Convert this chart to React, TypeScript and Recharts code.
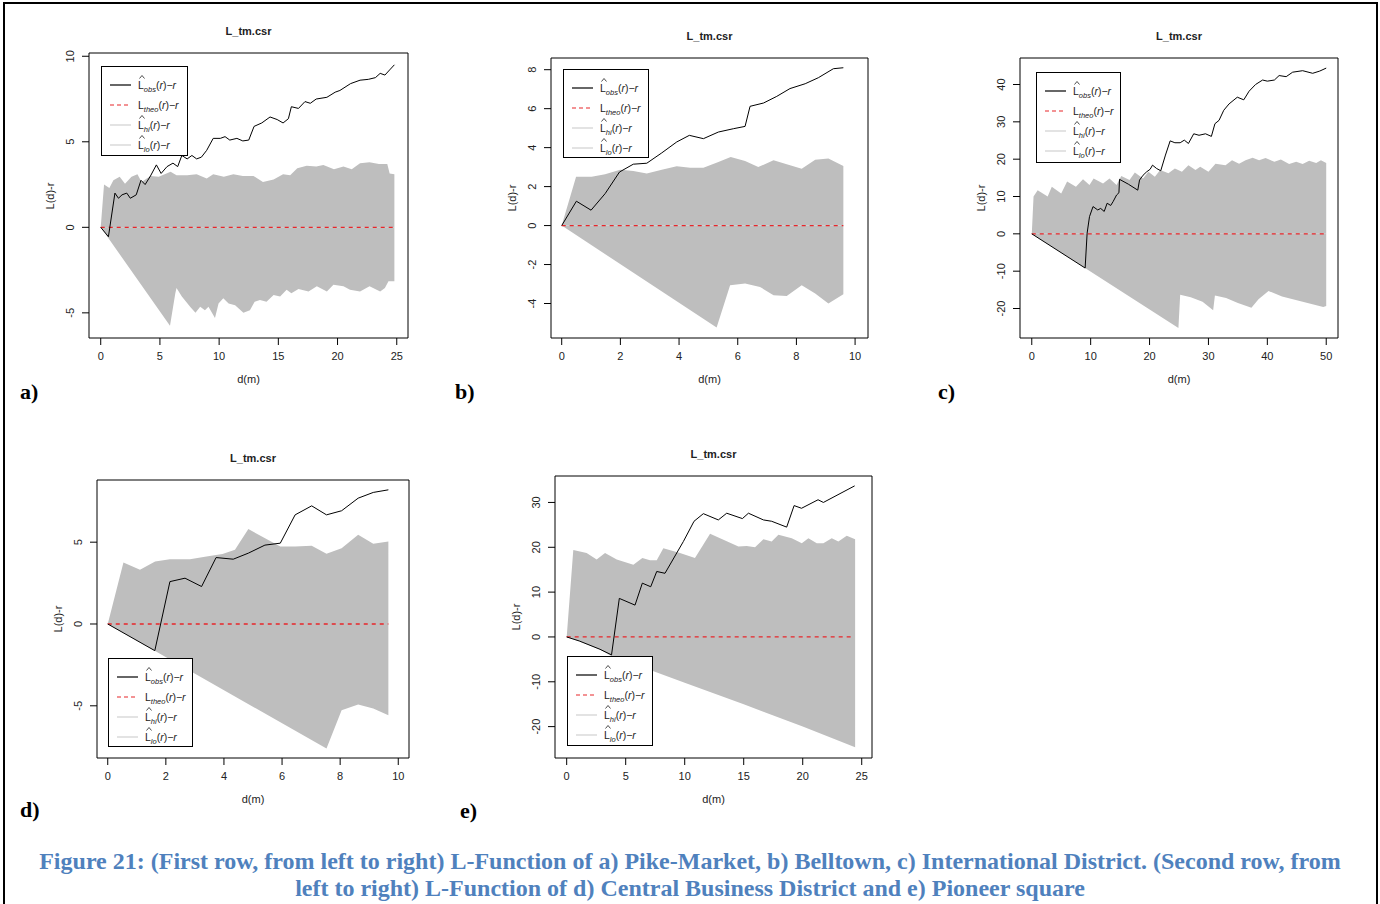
import React from 'react';
import { ComposedChart, Line, Area, XAxis, YAxis, ReferenceArea } from 'recharts';

type Pt = [number, number];

// a) Pike-Market
const pikeObs: Pt[] = [[0,0],[0.65,-0.55],[1.2,2.0],[1.5,1.7],[1.8,1.9],[2.2,2.0],[2.5,1.7],[3.0,1.9],[3.4,2.75],[3.75,2.5],[4.2,3.0],[4.7,3.65],[5.1,3.15],[5.6,3.55],[6.1,3.75],[6.5,3.55],[6.85,4.2],[7.3,4.0],[7.7,4.2],[8.1,4.0],[8.5,4.1],[8.95,4.5],[9.5,5.2],[10.1,5.2],[10.5,5.3],[10.9,5.1],[11.5,5.2],[12.0,5.05],[12.5,5.1],[12.95,5.9],[13.6,6.1],[14.3,6.45],[14.9,6.3],[15.4,6.1],[15.85,6.35],[16.1,7.05],[16.7,6.95],[17.25,7.35],[17.7,7.25],[18.2,7.5],[19.1,7.6],[19.8,7.9],[20.2,8.0],[21.1,8.4],[21.9,8.6],[22.6,8.65],[23.2,8.75],[23.6,9.0],[24.0,8.9],[24.4,9.2],[24.8,9.5]];
const pikeHi: Pt[] = [[0,0],[0.28,2.5],[0.73,2.3],[1.07,2.75],[1.6,2.95],[2.05,2.55],[2.6,2.95],[3.1,3.1],[3.45,2.65],[4.2,3.0],[4.9,2.95],[5.9,3.25],[6.4,3.05],[7.3,3.05],[8.1,3.1],[8.95,2.85],[9.5,3.1],[10.4,2.95],[11.2,3.1],[12.0,3.0],[12.9,3.0],[13.7,2.65],[14.6,2.8],[15.4,3.1],[16.0,3.05],[16.6,3.45],[17.4,3.6],[18.2,3.55],[18.8,3.65],[19.7,3.4],[20.5,3.55],[21.2,3.4],[21.9,3.75],[22.7,3.8],[23.5,3.7],[24.2,3.7],[24.4,3.15],[24.8,3.1]];
const pikeLo: Pt[] = [[0,0],[5.85,-5.75],[6.3,-3.85],[6.4,-3.55],[6.85,-4.05],[7.55,-4.65],[8.0,-5.0],[8.4,-4.65],[8.8,-4.85],[9.1,-4.65],[9.65,-5.3],[9.95,-4.45],[10.35,-4.15],[10.8,-4.45],[11.35,-4.55],[12.05,-5.0],[12.6,-4.85],[13.0,-4.35],[13.45,-4.25],[14.0,-4.35],[14.6,-3.95],[15.15,-4.05],[15.7,-3.65],[16.1,-3.85],[16.7,-3.6],[17.55,-3.75],[18.25,-3.45],[19.1,-3.75],[19.65,-3.35],[20.5,-3.45],[21.05,-3.65],[21.9,-3.75],[22.7,-3.45],[23.6,-3.75],[24.0,-3.55],[24.3,-3.15],[24.8,-3.15]];

// b) Belltown
const bellObs: Pt[] = [[0,0],[0.5,1.25],[1.0,0.79],[1.48,1.64],[1.97,2.75],[2.44,3.15],[2.9,3.2],[3.41,3.73],[3.92,4.29],[4.35,4.63],[4.83,4.46],[5.34,4.8],[5.85,4.97],[6.25,5.09],[6.42,6.12],[6.88,6.29],[7.33,6.63],[7.78,7.03],[8.3,7.28],[8.75,7.59],[9.26,8.05],[9.6,8.1]];
const bellHi: Pt[] = [[0,0],[0.49,2.5],[1.02,2.5],[1.48,2.63],[1.99,2.87],[2.44,2.8],[2.9,2.67],[3.41,2.87],[3.92,3.04],[4.38,2.97],[4.83,2.97],[5.34,3.26],[5.76,3.52],[6.25,3.32],[6.7,3.0],[7.22,3.35],[7.67,3.15],[8.18,2.92],[8.64,3.38],[9.09,3.44],[9.6,3.06]];
const bellLo: Pt[] = [[0,0],[5.28,-5.23],[5.74,-3.06],[6.25,-2.97],[6.76,-3.15],[7.22,-3.57],[7.67,-3.62],[8.18,-3.06],[8.64,-3.49],[9.09,-4.0],[9.6,-3.52]];

// c) International District
const intlObs: Pt[] = [[0,0],[9.06,-9.16],[9.4,0.2],[9.8,4.6],[10.4,7.3],[11.2,6.4],[11.7,6.8],[12.3,6.0],[12.8,8.2],[13.4,7.6],[13.8,8.6],[14.4,10.4],[14.8,11.0],[14.9,14.6],[16.4,13.3],[18.0,11.7],[18.3,14.4],[18.9,15.7],[19.5,16.6],[20.1,17.3],[20.5,18.4],[21.2,17.5],[21.9,16.9],[22.7,21.1],[23.5,24.9],[24.3,24.4],[25.2,24.4],[25.9,25.1],[26.6,24.2],[27.5,26.8],[28.4,26.4],[29.5,26.8],[30.5,26.1],[31.1,29.5],[31.8,30.4],[32.6,33.1],[33.5,34.8],[34.9,36.6],[36.0,35.9],[36.9,38.2],[38.0,40.0],[39.2,41.2],[40.0,40.9],[41.2,41.2],[42.0,42.4],[43.2,42.1],[44.3,43.3],[46.0,43.7],[47.7,43.0],[48.9,43.6],[50.0,44.4]];
const intlHi: Pt[] = [[0,0],[0.3,10],[1.0,11.7],[2.7,10.0],[3.4,12.6],[5.0,10.8],[6.0,14.0],[7.5,12.6],[8.7,14.6],[9.8,13.1],[10.5,14.8],[12.1,13.5],[13.2,14.8],[14.4,13.1],[15.2,15.5],[16.6,14.4],[17.5,16.4],[18.9,14.8],[19.8,16.6],[20.9,15.3],[21.8,17.1],[23.2,16.2],[24.3,17.5],[25.5,16.6],[26.6,18.4],[27.8,17.1],[28.6,18.0],[30.0,16.6],[31.2,18.8],[32.9,18.4],[34.0,19.7],[35.2,18.8],[36.3,19.7],[37.5,20.4],[38.6,19.7],[39.7,20.3],[41.2,19.3],[42.3,19.9],[43.7,18.7],[44.9,19.3],[46.0,18.7],[47.1,19.6],[48.3,19.0],[49.1,19.7],[50,19.0]];
const intlLo: Pt[] = [[0,0],[24.9,-25.2],[25.2,-16.3],[27,-17],[29,-18.2],[30.8,-20.5],[31.1,-16.5],[33,-17.2],[35,-18.5],[37.3,-19.8],[38.5,-17.5],[40.2,-15.3],[42.5,-16.8],[45,-17.8],[47.5,-18.8],[49.5,-19.6],[50,-19.3]];

// d) Central Business District
const cbdObs: Pt[] = [[0,0],[1.62,-1.63],[2.14,2.59],[2.66,2.8],[3.23,2.29],[3.73,4.06],[4.32,3.96],[4.84,4.33],[5.41,4.82],[5.94,4.94],[6.45,6.67],[7.02,7.22],[7.53,6.67],[8.05,6.92],[8.62,7.69],[9.14,8.04],[9.66,8.2]];
const cbdHi: Pt[] = [[0,0],[0.54,3.76],[1.11,3.31],[1.63,3.82],[2.14,3.96],[2.83,3.96],[3.4,4.12],[3.95,4.27],[4.38,4.53],[4.84,5.8],[5.94,4.73],[6.45,4.73],[7.02,4.78],[7.53,4.29],[8.05,4.63],[8.62,5.45],[9.14,4.9],[9.66,5.04]];
const cbdLo: Pt[] = [[0,0],[7.53,-7.61],[8.05,-5.27],[8.62,-4.92],[9.14,-5.16],[9.66,-5.57]];

// e) Pioneer square
const pioObs: Pt[] = [[0,0],[1.07,-0.9],[2.82,-2.75],[3.8,-4.0],[4.46,8.6],[5.79,7.1],[6.41,12.0],[7.12,11.2],[7.63,14.6],[8.33,14.2],[9.89,21.3],[10.79,25.8],[11.58,27.5],[12.85,26.1],[13.56,27.6],[14.89,26.4],[15.4,27.6],[16.67,26.1],[17.37,25.8],[18.64,24.5],[19.27,29.3],[19.9,28.7],[21.3,30.6],[21.75,30.0],[24.4,33.7]];
const pioHi: Pt[] = [[0,0],[0.56,19.4],[1.69,18.7],[2.54,17.3],[3.25,18.7],[4.24,17.3],[5.65,16.1],[6.41,17.6],[7.06,17.1],[7.63,17.1],[8.19,19.8],[9.6,18.7],[10.87,17.6],[12.15,23.0],[13.28,21.7],[14.55,20.2],[15.25,20.3],[15.96,20.0],[16.67,21.8],[17.37,21.3],[17.94,22.8],[19.07,22.0],[19.92,20.9],[20.48,22.0],[21.19,20.9],[21.75,20.9],[22.46,22.0],[23.02,21.3],[23.73,22.6],[24.44,21.8]];
const pioLo: Pt[] = [[0,0],[1.1,-1.0],[2.8,-2.8],[3.8,-4.3],[4.5,-5.5],[7.3,-7.6],[10,-10.2],[15,-15.0],[20,-20.0],[24.44,-24.6]];

const LEGEND_ROWS = [
  { sub: 'obs', hat: true, color: '#000', dash: undefined },
  { sub: 'theo', hat: false, color: '#e8262a', dash: '4 3' },
  { sub: 'hi', hat: true, color: '#d0d0d0', dash: undefined },
  { sub: 'lo', hat: true, color: '#d0d0d0', dash: undefined },
];

const panels = [
  { tag: 'a)', tagPos: [20, 392], box: { x: 89, y: 53, w: 319, h: 285 }, xDomain: [-0.99, 25.95], yDomain: [-6.47, 10.19], xTicks: [0, 5, 10, 15, 20, 25], yTicks: [-5, 0, 5, 10], obs: pikeObs, hi: pikeHi, lo: pikeLo, legend: { x: 101, y: 66, w: 87, h: 90 } },
  { tag: 'b)', tagPos: [455, 392], box: { x: 551, y: 58, w: 317, h: 280 }, xDomain: [-0.365, 10.44], yDomain: [-5.77, 8.6], xTicks: [0, 2, 4, 6, 8, 10], yTicks: [-4, -2, 0, 2, 4, 6, 8], obs: bellObs, hi: bellHi, lo: bellLo, legend: { x: 563, y: 69, w: 86, h: 89 } },
  { tag: 'c)', tagPos: [938, 392], box: { x: 1020, y: 58, w: 318, h: 280 }, xDomain: [-2, 52], yDomain: [-27.9, 47.1], xTicks: [0, 10, 20, 30, 40, 50], yTicks: [-20, -10, 0, 10, 20, 30, 40], obs: intlObs, hi: intlHi, lo: intlLo, legend: { x: 1036, y: 72, w: 85, h: 91 } },
  { tag: 'd)', tagPos: [20, 810], box: { x: 97, y: 480, w: 312, h: 278 }, xDomain: [-0.37, 10.37], yDomain: [-8.19, 8.8], xTicks: [0, 2, 4, 6, 8, 10], yTicks: [-5, 0, 5], obs: cbdObs, hi: cbdHi, lo: cbdLo, legend: { x: 108, y: 658, w: 85, h: 89 } },
  { tag: 'e)', tagPos: [460, 811], box: { x: 555, y: 476, w: 317, h: 282 }, xDomain: [-0.99, 25.87], yDomain: [-27.0, 35.9], xTicks: [0, 5, 10, 15, 20, 25], yTicks: [-20, -10, 0, 10, 20, 30], obs: pioObs, hi: pioHi, lo: pioLo, legend: { x: 567, y: 656, w: 86, h: 90 } },
];

const rows = (pts: Pt[]) => pts.map(([x, y]) => ({ x, y }));

const TXT = '#222';
const SANS = '"Liberation Sans", Arial, sans-serif';
const SERIF = '"Liberation Serif", "Times New Roman", serif';

// hat drawn as a small chevron so it is not a separate text run
function LegendLabel({ sub, hat }: { sub: string; hat: boolean }) {
  return (
    <span style={{ fontSize: 10.5, color: TXT, whiteSpace: 'nowrap', fontFamily: SANS }}>
      <span style={{ position: 'relative', display: 'inline-block' }}>
        L
        {hat && (
          <svg width={6} height={4} style={{ position: 'absolute', left: 1, top: -3 }}>
            <polyline points="0.5,3.5 3,0.5 5.5,3.5" fill="none" stroke={TXT} strokeWidth={0.8} />
          </svg>
        )}
      </span>
      <span style={{ fontSize: 7.5, fontStyle: 'italic', position: 'relative', top: 3 }}>{sub}</span>
      (<i>r</i>)−<i>r</i>
    </span>
  );
}

function PlotLegend({ box }: { box: { x: number; y: number; w: number; h: number } }) {
  const offs = [18, 38, 58, 77.5];
  return (
    <div style={{ position: 'absolute', left: box.x, top: box.y, width: box.w - 2, height: box.h - 2, border: '1px solid #000', background: '#fff' }}>
      {LEGEND_ROWS.map((r, i) => (
        <React.Fragment key={r.sub}>
          <svg style={{ position: 'absolute', left: 8, top: offs[i] - 2, width: 22, height: 4 }}>
            <line x1={0} y1={2} x2={21} y2={2} stroke={r.color} strokeWidth={1.2} strokeDasharray={r.dash} />
          </svg>
          <div style={{ position: 'absolute', left: 36, top: offs[i] - 8, lineHeight: '14px' }}>
            <LegendLabel sub={r.sub} hat={r.hat} />
          </div>
        </React.Fragment>
      ))}
    </div>
  );
}

function Panel({ p }: { p: (typeof panels)[number] }) {
  const L = 60, T = 30, R = 10, B = 50;
  const w = p.box.w + L + R;
  const h = p.box.h + T + B;
  const xTick = (props: any) => (
    <text x={props.payload.coordinate} y={T + p.box.h + 18} textAnchor="middle" dominantBaseline="central" fontSize={11} fill={TXT} fontFamily={SANS}>
      {props.payload.value}
    </text>
  );
  const yTick = (props: any) => {
    const cy = props.payload.coordinate;
    const cx = L - 18.5;
    return (
      <text x={cx} y={cy} transform={`rotate(-90, ${cx}, ${cy})`} textAnchor="middle" dominantBaseline="central" fontSize={11} fill={TXT} fontFamily={SANS}>
        {props.payload.value}
      </text>
    );
  };
  const theo = [{ x: 0, y: 0 }, { x: p.obs[p.obs.length - 1][0], y: 0 }];
  return (
    <>
      <div style={{ position: 'absolute', left: p.box.x - L, top: p.box.y - T, width: w, height: h }}>
        <ComposedChart width={w} height={h} margin={{ top: T, right: R, bottom: 0, left: 0 }}>
          <XAxis type="number" dataKey="x" domain={p.xDomain} ticks={p.xTicks} interval={0} allowDataOverflow axisLine={false} tickLine={{ stroke: '#000' }} tickSize={7} height={B} tick={xTick} />
          <YAxis type="number" dataKey="y" domain={p.yDomain} ticks={p.yTicks} interval={0} allowDataOverflow axisLine={false} tickLine={{ stroke: '#000' }} tickSize={7} width={L} tick={yTick} />
          <Area data={rows(p.hi)} dataKey="y" type="linear" stroke="none" fill="#bebebe" fillOpacity={1} baseValue={0} isAnimationActive={false} />
          <Area data={rows(p.lo)} dataKey="y" type="linear" stroke="none" fill="#bebebe" fillOpacity={1} baseValue={0} isAnimationActive={false} />
          <Line data={theo} dataKey="y" type="linear" stroke="#e8262a" strokeWidth={1.3} strokeDasharray="4 4" dot={false} isAnimationActive={false} />
          <Line data={rows(p.obs)} dataKey="y" type="linear" stroke="#000" strokeWidth={1} dot={false} isAnimationActive={false} />
          <ReferenceArea x1={p.xDomain[0]} x2={p.xDomain[1]} y1={p.yDomain[0]} y2={p.yDomain[1]} fill="none" fillOpacity={0} stroke="#000" strokeWidth={1} ifOverflow="visible" />
        </ComposedChart>
      </div>
      <div style={{ position: 'absolute', left: p.box.x, width: p.box.w, top: p.box.y - 28, textAlign: 'center', fontWeight: 'bold', fontSize: 11, fontFamily: SANS, color: TXT }}>L_tm.csr</div>
      <div style={{ position: 'absolute', left: p.box.x, width: p.box.w, top: p.box.y + p.box.h + 35, textAlign: 'center', fontSize: 11, fontFamily: SANS, color: TXT }}>d(m)</div>
      <div style={{ position: 'absolute', left: p.box.x - 39 - 40, top: p.box.y + p.box.h / 2 - 7, width: 80, height: 14, lineHeight: '14px', textAlign: 'center', fontSize: 11, fontFamily: SANS, color: TXT, transform: 'rotate(-90deg)' }}>L(d)-r</div>
      <PlotLegend box={p.legend} />
      <div style={{ position: 'absolute', left: p.tagPos[0], top: p.tagPos[1] - 13, fontFamily: SERIF, fontWeight: 'bold', fontSize: 22, lineHeight: '26px', color: '#000' }}>{p.tag}</div>
    </>
  );
}

export default function App() {
  return (
    <div style={{ position: 'absolute', left: 0, top: 0, width: 1380, height: 904, overflow: 'hidden', background: '#fff' }}>
      <div style={{ position: 'absolute', left: 3, top: 2, width: 1371, height: 920, borderLeft: '2px solid #000', borderTop: '2px solid #000', borderRight: '2px solid #000' }} />
      {panels.map((p) => <Panel key={p.tag} p={p} />)}
      <div style={{ position: 'absolute', left: 0, width: 1380, top: 848, textAlign: 'center', fontFamily: SERIF, fontWeight: 'bold', fontSize: 24, lineHeight: '27px', color: '#4f81bd', whiteSpace: 'nowrap' }}>
        <div>Figure 21: (First row, from left to right) L-Function of a) Pike-Market, b) Belltown, c) International District. (Second row, from</div>
        <div>left to right) L-Function of d) Central Business District and e) Pioneer square</div>
      </div>
    </div>
  );
}
